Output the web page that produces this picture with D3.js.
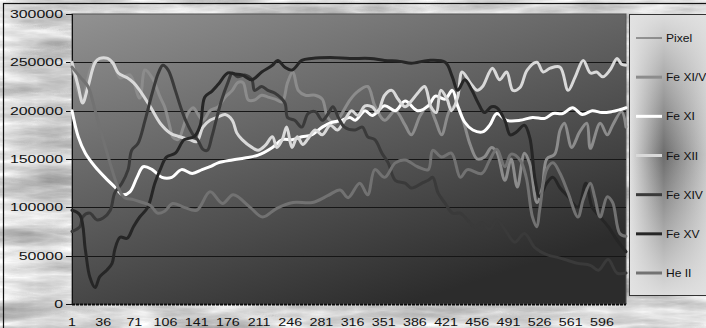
<!DOCTYPE html>
<html>
<head>
<meta charset="utf-8">
<script src="https://cdn.jsdelivr.net/npm/d3@7"></script>
<style>
  body { margin: 0; background: #fff; }
  svg { display: block; }
  text { font-family: "Liberation Sans", Arial, sans-serif; fill: #111; }
</style>
</head>
<body>
<div id="chart"></div>
<script>
// values are in thousands, x is the pixel index
const seriesNames = ["Pixel", "Fe XI/V", "Fe XI", "Fe XII", "Fe XIV", "Fe XV", "He II"];
const seriesColors = ["#4a4a4a", "#8c8c8c", "#ffffff", "#d9d9d9", "#3a3a3a", "#262626", "#727272"];

const pixel = [[1, 0.001], [623, 0.623]];

const feXIV_V = [[1,249],[12,211],[25,249],[40,254],[47,250],[55,234],[66,237],[77,213],[83,242],[91,234],
  [100,214],[105,204],[111,183],[114,173],[120,170],[126,183],[131,197],[137,203],[142,197],[148,190],
  [156,200],[165,204],[173,214],[181,221],[187,229],[193,229],[199,211],[206,211],[214,216],[221,214],
  [229,212],[237,209],[243,229],[249,240],[255,221],[263,216],[274,216],[282,212],[288,193],[296,187],
  [304,197],[313,211],[322,220],[333,225],[341,205],[352,190],[364,200],[375,185],[382,175],[392,195],
  [401,205],[409,190],[416,175],[425,200],[433,205],[440,190],[448,165],[456,150],[464,152],[472,162],
  [478,157],[487,128],[494,150],[501,121],[509,156],[515,145],[523,105],[529,120],[534,150],[543,155],
  [549,180],[554,187],[562,162],[571,178],[579,187],[583,161],[594,187],[602,175],[608,185],[618,199],[623,183]];

const feXI = [[1,200],[8,173],[16,156],[27,142],[38,131],[49,121],[58,113],[66,116],[74,131],[81,142],
  [91,139],[102,131],[113,131],[124,139],[136,135],[147,139],[156,142],[165,146],[181,149],[195,151],
  [210,154],[226,162],[237,170],[248,170],[259,173],[270,175],[282,183],[293,188],[304,190],[313,193],
  [319,190],[330,200],[338,195],[352,205],[364,200],[375,210],[389,200],[401,205],[409,215],[420,212],
  [428,221],[434,205],[442,188],[451,180],[462,178],[470,185],[478,197],[489,190],[504,190],[518,193],
  [532,192],[541,197],[552,197],[563,203],[574,196],[585,200],[596,198],[607,199],[616,201],[623,203]];

const feXII = [[1,250],[8,225],[13,208],[19,225],[27,250],[32,254],[41,254],[47,249],[53,239],[63,234],
  [70,229],[77,221],[89,204],[100,187],[111,177],[122,173],[133,170],[141,168],[148,183],[156,190],
  [164,193],[173,196],[181,190],[186,177],[192,170],[203,162],[210,159],[218,164],[226,173],[231,162],
  [237,170],[242,183],[248,162],[254,173],[260,165],[266,171],[274,180],[282,175],[291,185],[299,180],
  [307,190],[315,200],[322,195],[330,205],[338,204],[344,198],[352,216],[360,221],[367,212],[375,204],
  [382,210],[389,218],[397,225],[404,204],[410,198],[415,221],[422,212],[427,200],[434,214],[439,240],
  [448,229],[456,221],[462,225],[473,244],[481,232],[489,240],[496,221],[504,224],[512,242],[523,250],
  [530,240],[538,244],[549,245],[558,221],[566,235],[575,252],[583,239],[590,240],[597,235],[605,242],
  [613,254],[618,248],[623,247]];

const feXIV = [[1,75],[10,80],[13,90],[21,94],[29,87],[36,89],[44,97],[49,115],[57,125],[64,139],
  [68,159],[75,166],[83,190],[91,218],[98,239],[103,247],[109,242],[117,221],[124,201],[130,187],
  [137,175],[142,170],[148,160],[153,159],[158,173],[162,187],[169,211],[176,229],[181,239],[187,235],
  [195,237],[203,232],[206,221],[214,225],[221,221],[229,218],[240,208],[243,193],[251,190],[259,183],
  [266,197],[274,199],[282,190],[288,196],[294,204],[300,193],[307,183],[319,180],[327,183],[333,173],
  [341,170],[349,156],[356,146],[364,128],[375,125],[382,120],[394,125],[401,128],[406,131],[412,115],
  [420,104],[428,94],[437,94],[445,87],[453,80],[461,84],[470,77],[478,87],[487,77],[498,64],[509,73],
  [521,58],[534,51],[547,48],[558,45],[569,42],[583,40],[592,35],[603,46],[613,32],[623,32]];

const feXV = [[1,97],[10,92],[16,56],[21,28],[27,17],[32,28],[40,35],[46,42],[49,56],[55,69],[63,68],
  [70,80],[77,90],[86,100],[94,125],[100,139],[107,152],[117,156],[127,170],[138,173],[145,185],
  [150,214],[158,220],[165,227],[176,239],[184,238],[192,237],[203,232],[214,240],[226,247],[232,252],
  [240,245],[248,242],[259,252],[270,254],[291,255],[313,254],[336,254],[352,252],[369,251],[382,249],
  [401,252],[420,250],[428,235],[434,221],[442,232],[450,221],[457,208],[464,198],[472,204],[478,203],
  [487,190],[493,175],[500,178],[509,185],[515,172],[521,128],[526,111],[534,125],[541,131],[549,120],
  [558,111],[569,100],[578,125],[585,100],[594,90],[603,80],[613,66],[623,54]];

const heII = [[1,245],[10,235],[19,225],[27,200],[36,170],[44,145],[53,120],[60,110],[70,108],[80,105],
  [89,102],[97,94],[105,96],[114,104],[127,100],[141,97],[156,116],[170,104],[182,113],[201,100],
  [215,90],[231,99],[249,105],[271,105],[288,112],[302,118],[311,110],[324,125],[333,113],[341,139],
  [352,131],[364,146],[375,149],[389,142],[401,139],[406,159],[416,152],[427,156],[437,131],[445,139],
  [461,135],[470,149],[478,160],[487,142],[494,155],[504,149],[511,131],[518,90],[523,80],[526,97],
  [534,139],[541,146],[549,135],[558,115],[569,90],[575,108],[583,125],[588,110],[594,90],[602,111],
  [608,105],[616,73],[623,70]];

const seriesData = [pixel, feXIV_V, feXI, feXII, feXIV, feXV, heII];
const seriesWidths = [1, 3, 3, 3, 3, 3, 3];

const yTickValues = [0, 50, 100, 150, 200, 250, 300];
const yTickLabels = ["0", "50000", "100000", "150000", "200000", "250000", "300000"];
const xTickValues = [1, 36, 71, 106, 141, 176, 211, 246, 281, 316, 351, 386, 421, 456, 491, 526, 561, 596];

const width = 706, height = 328;
const plot = { left: 72, right: 626, top: 14, bottom: 304 };

const svg = d3.select("#chart").append("svg")
  .attr("width", width)
  .attr("height", height);

const defs = svg.append("defs");

// marble background
const marble = defs.append("filter").attr("id", "marble")
  .attr("x", 0).attr("y", 0).attr("width", "100%").attr("height", "100%")
  .attr("color-interpolation-filters", "sRGB");
marble.append("feTurbulence")
  .attr("type", "turbulence")
  .attr("baseFrequency", "0.007 0.04")
  .attr("numOctaves", 5)
  .attr("seed", 7)
  .attr("result", "t");
marble.append("feColorMatrix")
  .attr("in", "t")
  .attr("type", "matrix")
  .attr("values", "0.5 0.3 0.2 0 0  0.5 0.3 0.2 0 0  0.5 0.3 0.2 0 0  0 0 0 0 1")
  .attr("result", "g");
const ct = marble.append("feComponentTransfer").attr("in", "g");
["feFuncR", "feFuncG", "feFuncB"].forEach(f =>
  ct.append(f).attr("type", "linear").attr("slope", -0.7).attr("intercept", 1.06));

const plotGrad = defs.append("linearGradient").attr("id", "plotGrad")
  .attr("x1", 0).attr("y1", 0).attr("x2", 0.6).attr("y2", 1);
plotGrad.append("stop").attr("offset", "0%").attr("stop-color", "#929292");
plotGrad.append("stop").attr("offset", "100%").attr("stop-color", "#2c2c2c");

const legH = defs.append("linearGradient").attr("id", "legH")
  .attr("x1", 0).attr("y1", 0).attr("x2", 1).attr("y2", 0);
legH.append("stop").attr("offset", "0%").attr("stop-color", "#e2e2e2");
legH.append("stop").attr("offset", "38%").attr("stop-color", "#6c6c6c");
legH.append("stop").attr("offset", "100%").attr("stop-color", "#e2e2e2");

const legV = defs.append("linearGradient").attr("id", "legV")
  .attr("x1", 0).attr("y1", 0).attr("x2", 0).attr("y2", 1);
legV.append("stop").attr("offset", "0%").attr("stop-color", "#e2e2e2").attr("stop-opacity", 0.95);
legV.append("stop").attr("offset", "50%").attr("stop-color", "#e2e2e2").attr("stop-opacity", 0);
legV.append("stop").attr("offset", "100%").attr("stop-color", "#e2e2e2").attr("stop-opacity", 0.95);

svg.append("rect")
  .attr("x", 0).attr("y", 0).attr("width", width).attr("height", height)
  .attr("fill", "#fff")
  .attr("filter", "url(#marble)");

svg.append("rect")
  .attr("x", 3.5).attr("y", 3.5).attr("width", 720).attr("height", 340)
  .attr("fill", "none").attr("stroke", "#111").attr("stroke-width", 1.2);

const x = d3.scaleLinear().domain([1, 623]).range([plot.left, plot.right]);
const y = d3.scaleLinear().domain([0, 300]).range([plot.bottom, plot.top]);

// plot area
svg.append("rect")
  .attr("x", plot.left).attr("y", plot.top)
  .attr("width", plot.right - plot.left).attr("height", plot.bottom - plot.top)
  .attr("fill", "url(#plotGrad)")
  .attr("stroke", "#555").attr("stroke-width", 1);

svg.append("g").selectAll("line")
  .data(yTickValues.filter(v => v > 0 && v < 300))
  .join("line")
  .attr("x1", plot.left).attr("x2", plot.right)
  .attr("y1", d => Math.round(y(d)) + 0.5).attr("y2", d => Math.round(y(d)) + 0.5)
  .attr("stroke", "#161616").attr("stroke-width", 1);

// y axis
const yAxis = svg.append("g");
yAxis.append("line")
  .attr("x1", plot.left + 0.5).attr("x2", plot.left + 0.5)
  .attr("y1", plot.top).attr("y2", plot.bottom)
  .attr("stroke", "#111");
yAxis.selectAll("line.tick")
  .data(yTickValues)
  .join("line").attr("class", "tick")
  .attr("x1", plot.left - 6).attr("x2", plot.left)
  .attr("y1", d => Math.round(y(d)) + 0.5).attr("y2", d => Math.round(y(d)) + 0.5)
  .attr("stroke", "#111");
yAxis.selectAll("text")
  .data(yTickValues)
  .join("text")
  .attr("transform", d => `translate(63,${y(d) + 4}) scale(1.42,1)`)
  .attr("text-anchor", "end")
  .attr("font-size", 11.2)
  .text((d, i) => yTickLabels[i]);

// lines
const line = d3.line()
  .x(d => x(d[0]))
  .y(d => y(d[1]))
  .curve(d3.curveCatmullRom.alpha(0.5));

svg.append("g").selectAll("path")
  .data(seriesData)
  .join("path")
  .attr("d", line)
  .attr("fill", "none")
  .attr("stroke", (d, i) => seriesColors[i])
  .attr("stroke-width", (d, i) => seriesWidths[i])
  .attr("stroke-linejoin", "round")
  .attr("stroke-linecap", "round");

// x axis
svg.append("line")
  .attr("x1", plot.left).attr("x2", plot.right)
  .attr("y1", plot.bottom + 0.5).attr("y2", plot.bottom + 0.5)
  .attr("stroke", "#0a0a0a").attr("stroke-width", 2)
  .attr("stroke-dasharray", "3 1");

svg.append("g").selectAll("text")
  .data(xTickValues)
  .join("text")
  .attr("transform", d => `translate(${x(d)},326) scale(1.4,1)`)
  .attr("text-anchor", "middle")
  .attr("font-size", 10.2)
  .text(d => d);

// legend
const legend = svg.append("g");
legend.append("rect")
  .attr("x", 629.5).attr("y", 14.5).attr("width", 90).attr("height", 281)
  .attr("fill", "url(#legH)");
legend.append("rect")
  .attr("x", 629.5).attr("y", 14.5).attr("width", 90).attr("height", 281)
  .attr("fill", "url(#legV)")
  .attr("stroke", "#333").attr("stroke-width", 1);

const legendY = d3.scalePoint().domain(seriesNames).range([38, 273]);
const items = legend.selectAll("g.item")
  .data(seriesNames)
  .join("g").attr("class", "item")
  .attr("transform", d => `translate(0,${legendY(d)})`);
items.append("line")
  .attr("x1", 636).attr("x2", 662)
  .attr("stroke", (d, i) => seriesColors[i])
  .attr("stroke-width", (d, i) => i === 0 ? 1 : 3);
items.append("text")
  .attr("transform", "translate(666,4) scale(1.15,1)")
  .attr("font-size", 10.5)
  .text(d => d);
</script>
</body>
</html>
